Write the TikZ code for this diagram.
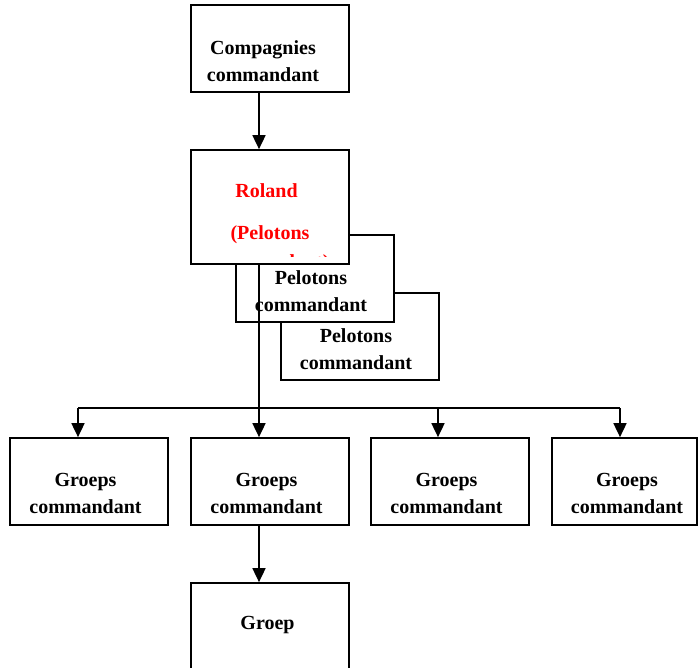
\documentclass[tikz,border=0pt]{standalone}
\usepackage{fontspec}
\setmainfont{Liberation Serif}
\usetikzlibrary{arrows.meta,calc}
\definecolor{namered}{HTML}{FF0000}
\begin{document}
\begin{tikzpicture}[x=1pt,y=-1pt,
  box/.style={draw,line width=1.7pt,fill=white,inner sep=0pt,minimum width=158pt,minimum height=87pt},
  txt/.style={font=\fontsize{20}{27.5}\selectfont\bfseries,align=center,inner sep=0pt},
  link/.style={line width=1.7pt},
  arr/.style={line width=1.7pt,-{Triangle[length=14pt,width=13pt]}}]
\clip (0,0) rectangle (698,668);

% company commander
\node[box] (cc) at (270,48.5) {};
\node[txt] (cct) at (263,61) {Compagnies\\commandant};

% stacked platoon commanders, back to front
\node[box] (pc2) at (360,336.5) {};
\node[txt] (pc2t) at (356,349) {Pelotons\\commandant};
\node[box] (pc1) at (315,278.5) {};
\node[txt] (pc1t) at (311,291) {Pelotons\\commandant};
\node[box,minimum height=114pt] (rol) at (270,207) {};
\node[txt,text=namered] (rol1) at (266.5,191) {Roland};
\node[txt,text=namered] (rol2) at (270,235) {(Pelotons};
% third line of the name box, cut off by the box's text area
\begin{scope}
  \clip (192,150) rectangle (348,256.5);
  \node[txt,text=namered,text height=0pt,text depth=0pt,anchor=base] (rol3) at (270,268.5) {commandant)};
\end{scope}

% section commanders
\node[box] (g1) at (89,481.5) {};
\node[box] (g2) at (270,481.5) {};
\node[box] (g3) at (450,481.5) {};
\node[box,minimum width=145pt] (g4) at (624.5,481.5) {};
\foreach \n/\x in {g1/85.5,g2/266.5,g3/446.5,g4/627}
  \node[txt] (\n t) at (\x,493.5) {Groeps\\commandant};

% section
\node[box,minimum height=90pt] (gp) at (270,628) {};
\node[txt] (gpt) at (267.5,625) {Groep};

% connectors
\coordinate (bus) at (259,408);
\draw[arr] ([xshift=-11pt]cc.south) -- ([xshift=-11pt]rol.north);
\draw[arr] ([xshift=-11pt]rol.south) -- ([xshift=-11pt]g2.north);
\draw[link] ([xshift=-11pt]g1.north |- bus) -- ([xshift=-4.5pt]g4.north |- bus);
\draw[arr] ([xshift=-11pt]g1.north |- bus) -- ([xshift=-11pt]g1.north);
\draw[arr] ([xshift=-12pt]g3.north |- bus) -- ([xshift=-12pt]g3.north);
\draw[arr] ([xshift=-4.5pt]g4.north |- bus) -- ([xshift=-4.5pt]g4.north);
\draw[arr] ([xshift=-11pt]g2.south) -- ([xshift=-11pt]gp.north);
\end{tikzpicture}
\end{document}
